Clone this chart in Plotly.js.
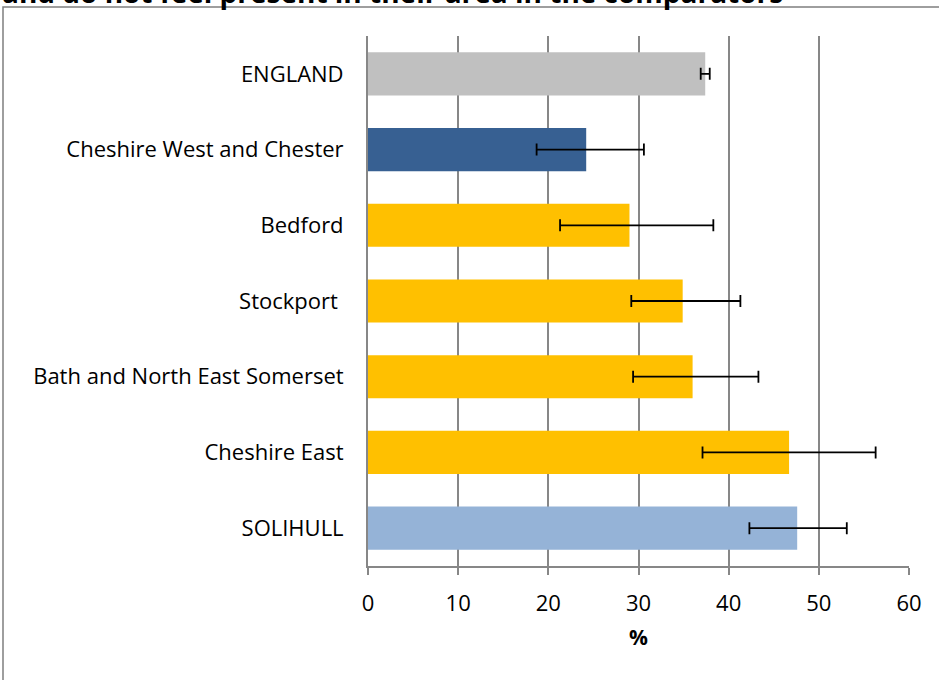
<!DOCTYPE html>
<html>
<head>
<meta charset="utf-8">
<script src="https://cdn.plot.ly/plotly-3.0.1.min.js"></script>
<style>
  html, body { margin: 0; padding: 0; background: #fff; }
  #chart { width: 939px; height: 680px; }
</style>
</head>
<body>
<div id="chart"></div>
<script>
// Categories listed bottom to top
const categories = ["SOLIHULL", "Cheshire East", "Bath and North East Somerset", "Stockport\u00a0", "Bedford", "Cheshire West and Chester", "ENGLAND"];
const values = [47.6, 46.7, 36.0, 34.9, 29.0, 24.2, 37.4];
const lowerCI = [42.3, 37.1, 29.4, 29.2, 21.3, 18.7, 36.9];
const upperCI = [53.1, 56.3, 43.3, 41.3, 38.3, 30.6, 37.9];
const barColors = ["#95B3D7", "#FFC000", "#FFC000", "#FFC000", "#FFC000", "#376092", "#C0C0C0"];
const xTicks = [0, 10, 20, 30, 40, 50, 60];
const titleText = "and do not feel present in their area in the comparators";

const errPlus = upperCI.map((u, i) => u - values[i]);
const errMinus = lowerCI.map((l, i) => values[i] - l);

const FONT = "'Open Sans', 'Noto Sans', sans-serif";

const trace = {
  type: "bar",
  orientation: "h",
  y: categories,
  x: values,
  marker: { color: barColors, line: { width: 0 } },
  error_x: {
    type: "data",
    symmetric: false,
    array: errPlus,
    arrayminus: errMinus,
    color: "#000000",
    thickness: 1.8,
    width: 6
  },
  hoverinfo: "none"
};

const layout = {
  width: 939,
  height: 680,
  margin: { l: 368, r: 30, t: 36, b: 114 },
  paper_bgcolor: "#ffffff",
  plot_bgcolor: "#ffffff",
  font: { family: FONT, size: 22, color: "#000" },
  showlegend: false,
  bargap: 0.43,
  xaxis: {
    range: [0, 60],
    tickvals: xTicks,
    ticktext: xTicks.map(String),
    showgrid: true,
    gridcolor: "#878787",
    gridwidth: 2,
    zeroline: false,
    showline: true,
    linecolor: "#878787",
    linewidth: 2,
    ticks: "outside",
    ticklen: 7,
    tickwidth: 2,
    tickcolor: "#878787",
    ticklabelstandoff: 10,
    tickfont: { size: 22, family: FONT },
    title: { text: "<b>%</b>", font: { size: 21, family: FONT }, standoff: 14 },
    fixedrange: true
  },
  yaxis: {
    type: "category",
    categoryorder: "array",
    categoryarray: categories,
    range: [-0.5, 6.5],
    showgrid: false,
    zeroline: false,
    showline: true,
    linecolor: "#878787",
    linewidth: 2,
    ticks: "",
    ticklabelstandoff: 18,
    tickfont: { size: 22, family: FONT },
    fixedrange: true
  },
  shapes: [
    {
      type: "rect",
      xref: "paper", yref: "paper",
      x0: (3 - 368) / 541, x1: 2,
      y0: -1, y1: 1 + (36 - 7) / 530,
      line: { color: "#7F7F7F", width: 1.5 },
      fillcolor: "rgba(0,0,0,0)",
      layer: "below"
    }
  ],
  annotations: [
    {
      text: "<b>" + titleText + "</b>",
      xref: "paper", yref: "paper",
      x: (0 - 368) / 541, y: 1 + (36 - 18) / 530,
      yshift: 5,
      xanchor: "left", yanchor: "bottom",
      showarrow: false,
      font: { size: 28, family: FONT, color: "#000" }
    }
  ]
};

Plotly.newPlot("chart", [trace], layout, { displayModeBar: false, staticPlot: true });
</script>
</body>
</html>
